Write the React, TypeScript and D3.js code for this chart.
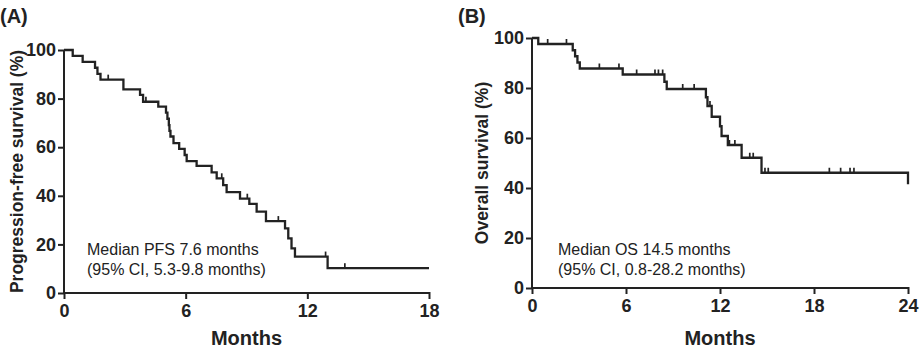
import React, { useEffect, useRef } from 'react';
import * as d3 from 'd3';

// panel A: progression-free survival (event time in months, survival % after the drop)
const pfsTimes = [0, 0.43, 0.92, 1.53, 1.65, 1.8, 2.93, 3.75, 3.9, 4.65, 5.03, 5.1, 5.17, 5.2, 5.25, 5.4, 5.68, 5.95, 6.05, 6.54, 7.28, 7.53, 7.85, 8.02, 8.68, 9.14, 9.5, 9.96, 10.9, 11.06, 11.22, 11.39, 13.0, 18];
const pfsSurv = [100, 97.6, 95.1, 92.7, 90.2, 87.8, 83.8, 81.5, 78.7, 76.7, 74.2, 71.7, 69.1, 66.7, 64.4, 61.7, 59.3, 56.8, 54.3, 52.3, 49.6, 47.2, 44.4, 41.5, 38.8, 36.7, 33.5, 29.6, 26.6, 22.5, 18.4, 15.0, 10.2, 10.2];
const pfsCensored = [2.18, 4.04, 7.78, 9.04, 10.57, 12.9, 13.85];
const pfsXTicks = [0, 6, 12, 18];

// panel B: overall survival
const osTimes = [0, 0.4, 2.6, 2.75, 2.9, 3.05, 5.79, 8.45, 8.6, 11.1, 11.2, 11.47, 12.0, 12.1, 12.5, 13.38, 14.65, 24];
const osSurv = [100, 97.6, 95.1, 92.7, 90.2, 87.8, 85.4, 82.5, 79.6, 76.3, 72.8, 68.5, 64.7, 60.8, 57.2, 52.1, 46.1, 41.5];
const osCensored = [1.0, 2.2, 4.3, 5.55, 6.68, 7.85, 8.07, 8.34, 9.62, 10.35, 11.36, 12.6, 12.95, 13.9, 14.12, 14.87, 15.08, 18.98, 19.7, 20.3, 20.55];
const osXTicks = [0, 6, 12, 18, 24];

const yTicks = [0, 20, 40, 60, 80, 100];

const FONT = '"Liberation Sans", Arial, Helvetica, sans-serif';
const INK = '#222';

type PanelProps = {
  g: d3.Selection<SVGGElement, unknown, null, undefined>;
  times: number[];
  surv: number[];
  censored: number[];
  xTicks: number[];
  xMax: number;
  left: number;
  right: number;
  top: number;
  bottom: number;
  label: string;
  labelX: number;
  yTitle: string;
  yTitleX: number;
  note: string[];
  noteX: number;
};

function drawPanel(p: PanelProps) {
  const { g } = p;
  const x = d3.scaleLinear().domain([0, p.xMax]).range([p.left, p.right]);
  const y = d3.scaleLinear().domain([0, 100]).range([p.bottom, p.top]);

  // axes
  const xAxis = g.append('g').attr('transform', `translate(0,${p.bottom})`)
    .call(d3.axisBottom(x).tickValues(p.xTicks).tickSize(6).tickPadding(5).tickFormat(d3.format('d')));
  const yAxis = g.append('g').attr('transform', `translate(${p.left},0)`)
    .call(d3.axisLeft(y).tickValues(yTicks).tickSize(6).tickPadding(2).tickFormat(d3.format('d')));
  [xAxis, yAxis].forEach((a) => {
    a.select('.domain').attr('stroke', INK).attr('stroke-width', 2).attr('d', null);
    a.selectAll('.tick line').attr('stroke', INK).attr('stroke-width', 2);
    a.selectAll('.tick text').attr('fill', INK).attr('font-family', FONT).attr('font-weight', 'bold').attr('font-size', 18);
  });
  xAxis.select('.domain').attr('d', `M${p.left},0H${p.right}`);
  yAxis.select('.domain').attr('d', `M0,${p.top}V${p.bottom}`);
  xAxis.selectAll('.tick line').attr('y1', -1);

  // step curve
  const pts: [number, number][] = p.times.map((t, i) => [t, p.surv[i]]);
  const line = d3.line<[number, number]>().x((d) => x(d[0])).y((d) => y(d[1])).curve(d3.curveStepAfter);
  g.append('path').attr('d', line(pts)).attr('fill', 'none').attr('stroke', INK).attr('stroke-width', 2.3);

  // censor marks
  const survAt = (t: number) => {
    let s = 100;
    p.times.forEach((tt, i) => { if (tt <= t) s = p.surv[i]; });
    return s;
  };
  g.selectAll('.censor').data(p.censored).join('line').attr('class', 'censor')
    .attr('x1', (d) => x(d)).attr('x2', (d) => x(d))
    .attr('y1', (d) => y(survAt(d))).attr('y2', (d) => y(survAt(d)) - 5)
    .attr('stroke', INK).attr('stroke-width', 1.7);

  // texts
  g.append('text').text('Months').attr('x', (p.left + p.right) / 2).attr('y', 345)
    .attr('text-anchor', 'middle').attr('font-family', FONT).attr('font-weight', 'bold').attr('font-size', 20).attr('fill', INK);
  g.append('text').text(p.yTitle)
    .attr('transform', `translate(${p.yTitleX},${(p.top + p.bottom) / 2}) rotate(-90)`)
    .attr('text-anchor', 'middle').attr('font-family', FONT).attr('font-weight', 'bold').attr('font-size', 17.5).attr('fill', INK);
  g.append('text').text(p.label).attr('x', p.labelX).attr('y', 23)
    .attr('font-family', FONT).attr('font-weight', 'bold').attr('font-size', 20).attr('fill', INK);
  g.selectAll('.note').data(p.note).join('text').attr('class', 'note').text((d) => d)
    .attr('x', p.noteX).attr('y', (_, i) => 255 + i * 20)
    .attr('font-family', FONT).attr('font-size', 16).attr('fill', INK);
}

export default function App() {
  const ref = useRef<SVGSVGElement>(null);
  useEffect(() => {
    const svg = d3.select(ref.current);
    svg.selectAll('*').remove();
    drawPanel({
      g: svg.append('g'), times: pfsTimes, surv: pfsSurv, censored: pfsCensored, xTicks: pfsXTicks, xMax: 18,
      left: 64, right: 429, top: 50, bottom: 293, label: '(A)', labelX: 0,
      yTitle: 'Progression-free survival (%)', yTitleX: 23,
      note: ['Median PFS 7.6 months', '(95% CI, 5.3-9.8 months)'], noteX: 87,
    });
    drawPanel({
      g: svg.append('g'), times: osTimes, surv: osSurv, censored: osCensored, xTicks: osXTicks, xMax: 24,
      left: 532, right: 908, top: 38, bottom: 288, label: '(B)', labelX: 458,
      yTitle: 'Overall survival (%)', yTitleX: 488,
      note: ['Median OS 14.5 months', '(95% CI, 0.8-28.2 months)'], noteX: 558,
    });
  }, []);
  return (
    <svg ref={ref} width={922} height={353}
      style={{ position: 'absolute', left: 0, top: 0, background: '#fff' }} />
  );
}
